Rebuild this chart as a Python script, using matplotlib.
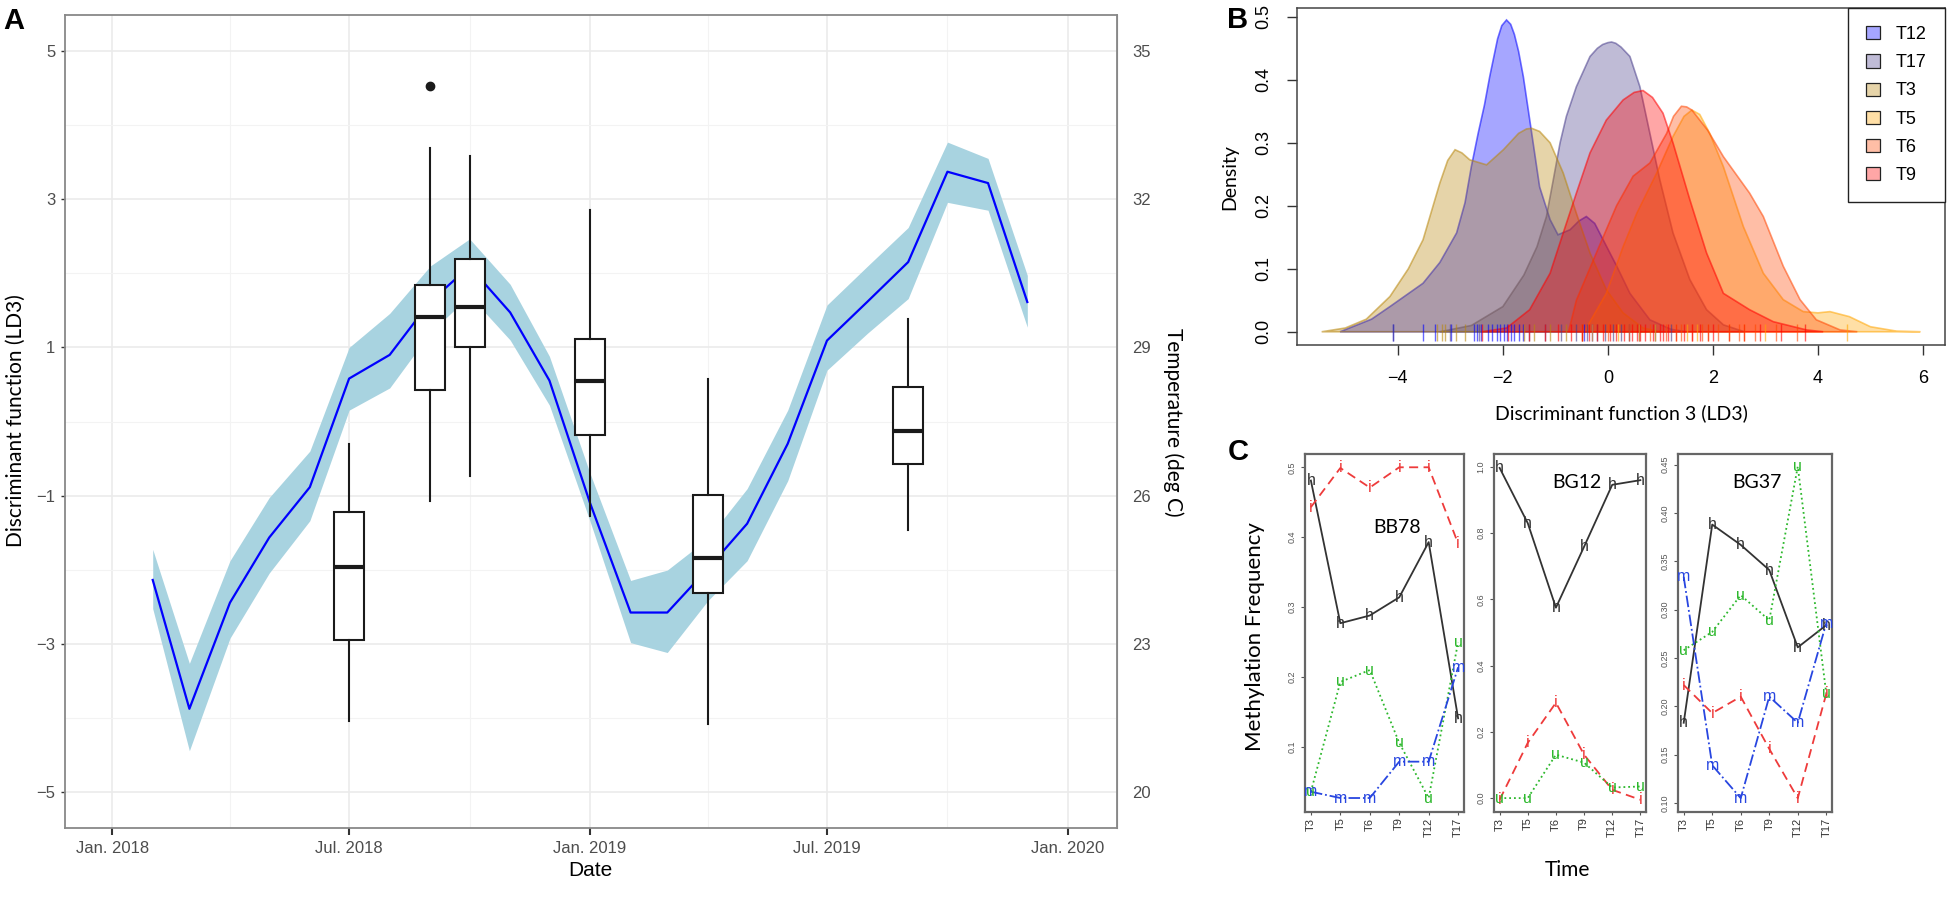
import matplotlib
matplotlib.use("Agg")
import matplotlib.pyplot as plt
import matplotlib.dates as mdates
from matplotlib.patches import Patch
import numpy as np

plt.rcParams['font.family'] = ['Liberation Sans Narrow', 'Liberation Sans', 'DejaVu Sans']
HUMAN = ['Lato', 'Open Sans', 'DejaVu Sans']

# ---------------- panel A : LD3 boxplots + monthly temperature ----------------
month_dates = ['2018-02-01', '2018-03-01', '2018-04-01', '2018-05-01', '2018-06-01',
               '2018-07-01', '2018-08-01', '2018-09-01', '2018-10-01', '2018-11-01',
               '2018-12-01', '2019-01-01', '2019-02-01', '2019-03-01', '2019-04-01',
               '2019-05-01', '2019-06-01', '2019-07-01', '2019-08-01', '2019-09-01',
               '2019-10-01', '2019-11-01', '2019-12-01']
temp_mean = [24.29, 21.68, 23.83, 25.15, 26.17, 28.37, 28.85, 29.93, 30.64, 29.71,
             28.33, 25.85, 23.63, 23.63, 24.52, 25.43, 27.05, 29.14, 29.93, 30.73,
             32.56, 32.33, 29.92]
temp_lo = [23.71, 20.83, 23.11, 24.43, 25.49, 27.73, 28.18, 29.30, 30.05, 29.15,
           27.83, 25.48, 23.02, 22.82, 23.87, 24.68, 26.30, 28.54, 29.29, 29.99,
           31.94, 31.78, 29.41]
temp_hi = [24.91, 22.60, 24.68, 25.96, 26.90, 29.00, 29.69, 30.65, 31.20, 30.28,
           28.82, 26.45, 24.28, 24.49, 25.13, 26.14, 27.73, 29.86, 30.65, 31.43,
           33.16, 32.83, 30.46]

box_dates = ['2018-07-01', '2018-09-01', '2018-10-01', '2019-01-01', '2019-04-01', '2019-09-01']
box_whislo = [-4.05, -1.08, -0.73, -1.27, -4.08, -1.47]
box_q1 = [-2.95, 0.42, 1.00, -0.18, -2.31, -0.57]
box_med = [-1.97, 1.41, 1.54, 0.55, -1.84, -0.13]
box_q3 = [-1.22, 1.85, 2.20, 1.11, -0.99, 0.46]
box_whishi = [-0.30, 3.70, 3.59, 2.86, 0.57, 1.39]
box_fliers = [[], [4.53], [], [], [], []]

xtick_dates = ['2018-01-01', '2018-07-01', '2019-01-01', '2019-07-01', '2020-01-01']
xtick_labels = ['Jan. 2018', 'Jul. 2018', 'Jan. 2019', 'Jul. 2019', 'Jan. 2020']
xminor_dates = ['2018-04-01', '2018-10-01', '2019-04-01', '2019-10-01']
ld_ticks = [5, 3, 1, -1, -3, -5]
ld_minor = [4, 2, 0, -2, -4]
temp_ticks = [20, 23, 26, 29, 32, 35]

# ---------------- panel B : densities of LD3 per time point ----------------
groups = ['T12', 'T17', 'T3', 'T5', 'T6', 'T9']
group_colors = ['#0000FF', '#483D8B', '#B8860B', '#FFA500', '#FF4500', '#FF0000']
dens_x = {
    'T12': [-5.1, -4.5, -4.15, -3.52, -3.2, -2.88, -2.72, -2.6, -2.47, -2.35, -2.25, -2.1,
            -2.02, -1.93, -1.85, -1.78, -1.7, -1.61, -1.45, -1.3, -1.1, -0.95, -0.72, -0.55,
            -0.41, -0.25, -0.09, 0.17, 0.42, 0.8, 1.2, 1.5],
    'T17': [-3.2, -2.6, -2.0, -1.6, -1.35, -1.17, -1.04, -0.91, -0.79, -0.6, -0.34, -0.2,
            -0.1, 0.0, 0.07, 0.15, 0.25, 0.42, 0.61, 0.8, 0.99, 1.24, 1.56, 1.88, 2.2, 2.6],
    'T3': [-5.45, -5.0, -4.6, -4.15, -3.8, -3.52, -3.2, -3.05, -2.91, -2.78, -2.63, -2.31,
           -1.99, -1.7, -1.55, -1.45, -1.3, -1.1, -0.85, -0.6, -0.34, -0.03, 0.29, 0.67, 1.0],
    'T5': [-0.45, -0.03, 0.29, 0.55, 0.93, 1.24, 1.45, 1.6, 1.75, 1.94, 2.2, 2.58, 2.96,
           3.34, 3.72, 4.0, 4.23, 4.6, 5.0, 5.5, 5.95],
    'T6': [-0.75, -0.6, -0.22, 0.165, 0.48, 0.8, 1.12, 1.25, 1.4, 1.5, 1.6, 1.9, 2.2, 2.7,
           2.96, 3.34, 3.66, 3.97, 4.42, 4.75],
    'T9': [-2.4, -1.93, -1.49, -1.1, -0.85, -0.6, -0.34, -0.03, 0.29, 0.5, 0.67, 0.85, 1.05,
           1.24, 1.56, 1.88, 2.2, 2.7, 3.15, 3.78, 4.1],
}
dens_y = {
    'T12': [0.0, 0.02, 0.04, 0.077, 0.11, 0.157, 0.205, 0.262, 0.315, 0.36, 0.405, 0.465,
            0.486, 0.495, 0.488, 0.472, 0.445, 0.405, 0.315, 0.23, 0.178, 0.154, 0.162, 0.176,
            0.183, 0.172, 0.146, 0.104, 0.061, 0.019, 0.004, 0.0],
    'T17': [0.0, 0.01, 0.04, 0.09, 0.135, 0.183, 0.241, 0.30, 0.342, 0.389, 0.437, 0.45,
            0.456, 0.459, 0.46, 0.458, 0.452, 0.437, 0.389, 0.315, 0.241, 0.157, 0.083,
            0.035, 0.011, 0.0],
    'T3': [0.0, 0.006, 0.02, 0.056, 0.10, 0.146, 0.236, 0.272, 0.289, 0.284, 0.273, 0.265,
           0.289, 0.315, 0.322, 0.323, 0.318, 0.30, 0.252, 0.188, 0.125, 0.067, 0.03, 0.006, 0.0],
    'T5': [0.0, 0.061, 0.135, 0.188, 0.252, 0.31, 0.342, 0.352, 0.345, 0.315, 0.262, 0.167,
           0.093, 0.051, 0.032, 0.030, 0.032, 0.024, 0.008, 0.001, 0.0],
    'T6': [0.0, 0.05, 0.125, 0.20, 0.247, 0.268, 0.315, 0.342, 0.358, 0.357, 0.352, 0.32,
           0.278, 0.22, 0.183, 0.104, 0.051, 0.019, 0.003, 0.0],
    'T9': [0.0, 0.006, 0.035, 0.093, 0.157, 0.22, 0.284, 0.336, 0.368, 0.38, 0.383, 0.372,
           0.347, 0.30, 0.21, 0.125, 0.061, 0.035, 0.016, 0.003, 0.0],
}
rug_x = {
    'T12': [-4.09, -3.52, -3.3, -2.98, -2.55, -2.5, -2.42, -2.28, -2.2, -2.12, -2.05, -1.98,
            -1.92, -1.85, -1.78, -1.7, -1.62, -0.45, -0.3],
    'T17': [-4.1, -3.0, -2.45, -1.5, -1.2, -0.9, -0.6, -0.4, -0.2, -0.05, 0.1, 0.25, 0.4,
            0.6, 0.9, 1.2],
    'T3': [-3.25, -3.15, -3.1, -2.9, -2.72, -1.6, -1.4, -1.1, -0.8, -0.5],
    'T5': [-0.3, 0.2, 0.6, 0.9, 1.3, 1.5, 1.7, 1.9, 2.3, 2.6, 3.0, 4.55],
    'T6': [-0.5, 0.0, 0.4, 0.8, 1.1, 1.4, 1.6, 1.8, 2.1, 2.5, 2.8, 3.2, 3.6],
    'T9': [-2.4, -1.9, -1.5, -1.2, -0.95, -0.7, -0.5, -0.35, -0.2, -0.1, 0.05, 0.15, 0.3,
           0.45, 0.55, 0.62, 0.7, 0.85, 1.0, 1.05, 1.15, 1.3, 1.45, 1.6, 1.75, 1.9, 2.0,
           2.3, 2.6, 2.9, 3.3, 3.75],
}

# ---------------- panel C : methylation frequency per time point ----------------
times = ['T3', 'T5', 'T6', 'T9', 'T12', 'T17']
bb78 = {'h': [0.481, 0.277, 0.288, 0.314, 0.393, 0.141],
        'i': [0.443, 0.499, 0.471, 0.50, 0.50, 0.391],
        'u': [0.036, 0.193, 0.21, 0.106, 0.027, 0.25],
        'm': [0.036, 0.027, 0.027, 0.079, 0.079, 0.214]}
bg12 = {'h': [0.997, 0.83, 0.575, 0.759, 0.946, 0.96],
        'i': [-0.005, 0.167, 0.288, 0.131, 0.025, -0.005],
        'u': [0.0, 0.0, 0.131, 0.107, 0.032, 0.035]}
bg37 = {'h': [0.183, 0.388, 0.367, 0.341, 0.261, 0.284],
        'i': [0.222, 0.193, 0.21, 0.156, 0.105, 0.213],
        'u': [0.258, 0.277, 0.315, 0.289, 0.448, 0.213],
        'm': [0.334, 0.139, 0.105, 0.21, 0.183, 0.286]}
meth_style = {'h': ('#333333', '-'), 'i': ('#EE3B3B', (0, (5, 3))),
              'u': ('#2DB82D', ':'), 'm': ('#2846E0', '-.')}

W, H = 1950, 897
fig = plt.figure(figsize=(W / 100, H / 100), dpi=100)


def px_box(l, t, r, b):
    return [l / W, 1 - b / H, (r - l) / W, (b - t) / H]


def px_text(x, y, s, **kw):
    fig.text(x / W, 1 - y / H, s, ha='center', va='center', **kw)


def ld(t):
    return (np.asarray(t, dtype=float) - 27.5) / 1.5


def tm(v):
    return 27.5 + 1.5 * np.asarray(v, dtype=float)


# ---- A
axA = fig.add_axes(px_box(65, 15, 1117, 828))
xm = mdates.datestr2num(month_dates)
axA.fill_between(xm, ld(temp_lo), ld(temp_hi), color='#A8D3E0', lw=0, zorder=2)
axA.plot(xm, ld(temp_mean), color='#0000FF', lw=1.6, zorder=3)

stats = []
for i in range(len(box_dates)):
    stats.append(dict(med=box_med[i], q1=box_q1[i], q3=box_q3[i],
                      whislo=box_whislo[i], whishi=box_whishi[i], fliers=box_fliers[i]))
axA.bxp(stats, positions=mdates.datestr2num(box_dates), widths=23, showcaps=False,
        patch_artist=True, manage_ticks=False, zorder=4,
        boxprops=dict(facecolor='white', edgecolor='#1a1a1a', lw=1.5),
        medianprops=dict(color='#1a1a1a', lw=3),
        whiskerprops=dict(color='#1a1a1a', lw=1.5),
        flierprops=dict(marker='o', markerfacecolor='#1a1a1a', markeredgecolor='#1a1a1a',
                        markersize=6))

axA.set_xlim(mdates.datestr2num('2018-01-01') - 36, mdates.datestr2num('2020-01-01') + 37.5)
axA.set_ylim(-5.49, 5.49)
axA.set_xticks(mdates.datestr2num(xtick_dates))
axA.set_xticklabels(xtick_labels)
axA.set_xticks(mdates.datestr2num(xminor_dates), minor=True)
axA.set_yticks(ld_ticks)
axA.set_yticks(ld_minor, minor=True)
axA.grid(which='major', color='#EBEBEB', lw=1.2)
axA.grid(which='minor', color='#F3F3F3', lw=0.8)
axA.set_axisbelow(True)
axA.tick_params(which='minor', length=0)
axA.tick_params(axis='y', which='major', length=3, width=1, color='#333333', labelsize=12,
                labelcolor='#4D4D4D', pad=4)
axA.tick_params(axis='x', which='major', length=5, width=1.5, color='#333333', labelsize=12,
                labelcolor='#4D4D4D', pad=4)
for s in axA.spines.values():
    s.set_color('#888888')
    s.set_linewidth(1.3)

sec = axA.secondary_yaxis('right', functions=(tm, ld))
sec.set_yticks(temp_ticks)
sec.tick_params(length=0, pad=11, labelsize=12, labelcolor='#4D4D4D')
sec.spines['right'].set_color('#888888')

px_text(16, 421, 'Discriminant function (LD3)', rotation=90, fontsize=15, family=HUMAN)
px_text(590, 870, 'Date', fontsize=15)
px_text(1173, 422, 'Temperature (deg C)', rotation=270, fontsize=15, family=HUMAN)
px_text(14, 21, 'A', fontsize=21, fontweight='bold', family=['Liberation Sans', 'DejaVu Sans'])

# ---- B
axB = fig.add_axes(px_box(1297, 8, 1945, 345))
for g, c in zip(groups, group_colors):
    axB.fill(dens_x[g], dens_y[g], facecolor=(c, 0.35), edgecolor=(c, 0.55), lw=1.2)
for g, c in zip(groups, group_colors):
    axB.vlines(rug_x[g], -0.015, 0.013, colors=[(c, 0.6)], lw=1)
axB.set_xlim(-5.92, 6.42)
axB.set_ylim(-0.021, 0.514)
axB.set_xticks([-4, -2, 0, 2, 4, 6])
axB.set_yticks([0.0, 0.1, 0.2, 0.3, 0.4, 0.5])
axB.set_yticklabels(['0.0', '0.1', '0.2', '0.3', '0.4', '0.5'], rotation=90, va='center')
axB.tick_params(direction='out', length=7, width=1, color='#333333', labelsize=13, pad=11)
for s in axB.spines.values():
    s.set_color('#444444')
    s.set_linewidth(1.1)
handles = [Patch(facecolor=(c, 0.35), edgecolor='#222222', lw=0.9, label=g)
           for g, c in zip(groups, group_colors)]
leg = axB.legend(handles=handles, loc='upper right', bbox_to_anchor=(1, 1), borderaxespad=0,
                 fancybox=False, edgecolor='#222222', fontsize=13, handlelength=0.75,
                 handleheight=0.75, handletextpad=0.9, labelspacing=0.62, borderpad=1.0,
                 framealpha=1)
leg.get_frame().set_linewidth(1)
px_text(1621, 413, 'Discriminant function 3 (LD3)', fontsize=14, family=HUMAN)
px_text(1230, 177, 'Density', rotation=90, fontsize=14, family=HUMAN)
px_text(1238, 20, 'B', fontsize=21, fontweight='bold', family=['Liberation Sans', 'DejaVu Sans'])

# ---- C
panels_c = [
    ('BB78', bb78, (1305, 1464), (0.007, 0.519), [0.1, 0.2, 0.3, 0.4, 0.5],
     ['0.1', '0.2', '0.3', '0.4', '0.5'], (0.579, 0.796)),
    ('BG12', bg12, (1494, 1646), (-0.042, 1.039), [0.0, 0.2, 0.4, 0.6, 0.8, 1.0],
     ['0.0', '0.2', '0.4', '0.6', '0.8', '1.0'], (0.546, 0.919)),
    ('BG37', bg37, (1678, 1832), (0.0907, 0.461), [0.10, 0.15, 0.20, 0.25, 0.30, 0.35, 0.40, 0.45],
     ['0.10', '0.15', '0.20', '0.25', '0.30', '0.35', '0.40', '0.45'], (0.513, 0.919)),
]
xpos = np.arange(1, len(times) + 1)
for title, series, (l, r), ylim, yt, ytl, tpos in panels_c:
    ax = fig.add_axes(px_box(l, 454, r, 812))
    for key in ['h', 'i', 'u', 'm']:
        if key not in series:
            continue
        col, ls = meth_style[key]
        ax.plot(xpos, series[key], color=col, ls=ls, lw=1.3, zorder=2)
        for xx, yy in zip(xpos, series[key]):
            ax.text(xx, yy, key, color=col, fontsize=11.5, ha='center', va='center', zorder=3,
                    family=['Liberation Sans', 'DejaVu Sans'])
    ax.set_xlim(0.8, 6.2)
    ax.set_ylim(*ylim)
    ax.set_xticks(xpos)
    ax.set_xticklabels(times, rotation=90, fontsize=8, color='#333333')
    ax.set_yticks(yt)
    ax.set_yticklabels(ytl, rotation=90, va='center', fontsize=6.5, color='#555555')
    ax.tick_params(axis='x', length=2, pad=2, color='#555555')
    ax.tick_params(axis='y', length=3, pad=3, color='#555555')
    for s in ax.spines.values():
        s.set_color('#666666')
        s.set_linewidth(1.6)
    ax.text(tpos[0], tpos[1], title, transform=ax.transAxes, ha='center', va='center',
            fontsize=14, family=HUMAN)

px_text(1255, 637, 'Methylation Frequency', rotation=90, fontsize=16, family=HUMAN)
px_text(1567, 870, 'Time', fontsize=15, family=HUMAN)
px_text(1238, 452, 'C', fontsize=21, fontweight='bold', family=['Liberation Sans', 'DejaVu Sans'])

fig.savefig('out.png', dpi=100, facecolor='white')
